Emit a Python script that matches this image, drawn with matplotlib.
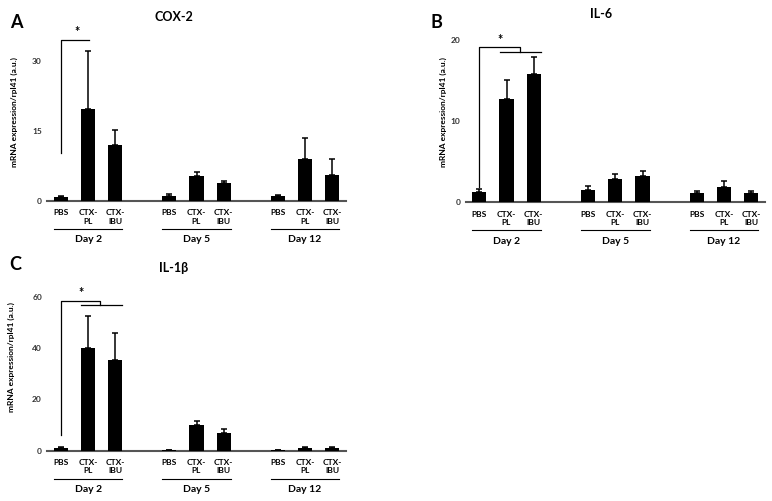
import numpy as np
import matplotlib.pyplot as plt
import matplotlib.transforms as mtransforms

plt.rcParams['font.family'] = ['Lato', 'DejaVu Sans']
plt.rcParams['font.weight'] = 'bold'

groups = ['Day 2', 'Day 5', 'Day 12']
conds = ['PBS', 'CTX-\nPL', 'CTX-\nIBU']
xpos = [0, 1, 2, 4, 5, 6, 8, 9, 10]

cox2 = [0.9, 19.8, 12.1, 1.1, 5.4, 3.9, 1.0, 8.9, 5.6]
cox2_err = [0.1, 12.4, 3.1, 0.4, 0.9, 0.4, 0.2, 4.5, 3.3]
il6 = [1.3, 12.8, 15.9, 1.55, 2.9, 3.3, 1.1, 1.9, 1.1]
il6_err = [0.4, 2.3, 2.1, 0.45, 0.6, 0.6, 0.3, 0.7, 0.3]
il1b = [1.2, 40.1, 35.3, 0.3, 10.1, 6.9, 0.3, 1.2, 1.2]
il1b_err = [0.3, 12.4, 10.5, 0.1, 1.5, 1.5, 0.1, 0.3, 0.4]

W, H = 772, 501
fig = plt.figure(figsize=(W / 100, H / 100), dpi=100)


def make_ax(x0, unit, y0, ppu, ymax):
	# x0: pixel of first bar centre, y0: pixel of zero line, ppu: px per unit
	left = x0 - 0.5 * unit
	width = 11 * unit
	top = y0 - ymax * ppu
	ax = fig.add_axes([left / W, 1 - y0 / H, width / W, (y0 - top) / H])
	ax.set_xlim(-0.5, 10.5)
	ax.set_ylim(0, ymax)
	return ax


def draw_panel(ax, vals, errs, yticks, ylab_x, ylab_y):
	ax.bar(xpos, vals, width=0.52, color='black', zorder=3)
	ax.errorbar(xpos, vals, yerr=[np.zeros(len(vals)), errs], fmt='none',
		ecolor='black', elinewidth=1.1, capsize=2.2, capthick=1.1, zorder=2)
	for s in ['top', 'right', 'left']:
		ax.spines[s].set_visible(False)
	ax.spines['bottom'].set_color('#555555')
	ax.spines['bottom'].set_linewidth(1.5)
	ax.set_yticks(yticks)
	ax.tick_params(axis='y', length=0, pad=4, labelsize=6, labelcolor='#333333')
	ax.set_xticks(xpos)
	ax.set_xticklabels(conds * 3, fontsize=6, linespacing=1.2, va='top')
	ax.tick_params(axis='x', length=0, pad=6)
	ax.set_ylabel('mRNA expression/rpl41 (a.u.)', fontsize=6, fontweight='bold')
	ax.yaxis.set_label_coords(ylab_x, ylab_y)
	tr = mtransforms.offset_copy(ax.get_xaxis_transform(), fig=fig, y=-28, units='dots')
	tr2 = mtransforms.offset_copy(ax.get_xaxis_transform(), fig=fig, y=-39, units='dots')
	for i, g in enumerate(groups):
		c = 4 * i + 1
		ax.plot([c - 1.26, c + 1.26], [0, 0], color='black', lw=0.8, transform=tr, clip_on=False)
		ax.text(c, 0, g, transform=tr2, ha='center', va='center', fontsize=7.5, fontweight='bold')


# A: COX-2
axA = make_ax(61, 27.1, 201, 4.667, 36)
draw_panel(axA, cox2, cox2_err, [0, 15, 30], -0.1, 0.53)
axA.plot([0, 0, 1.05], [10.3, 34.6, 34.6], color='black', lw=0.9, clip_on=False)
axA.text(0.58, 35.0, '*', ha='center', va='bottom', fontsize=9)

# B: IL-6
axB = make_ax(479.3, 27.2, 202.3, 8.1, 21)
draw_panel(axB, il6, il6_err, [0, 10, 20], -0.063, 0.53)
axB.plot([0, 0, 1.5, 1.5], [1.9, 19.2, 19.2, 18.6], color='black', lw=0.9, clip_on=False)
axB.plot([0.76, 2.28], [18.6, 18.6], color='black', lw=0.9, clip_on=False)
axB.text(0.78, 19.3, '*', ha='center', va='bottom', fontsize=9)

# C: IL-1b
axC = make_ax(61, 27.1, 450.7, 2.567, 62)
draw_panel(axC, il1b, il1b_err, [0, 20, 40, 60], -0.109, 0.59)
axC.plot([0, 0, 1.45, 1.45], [6, 58.5, 58.5, 56.6], color='black', lw=0.9, clip_on=False)
axC.plot([0.72, 2.25], [56.6, 56.6], color='black', lw=0.9, clip_on=False)
axC.text(0.74, 59.0, '*', ha='center', va='bottom', fontsize=9)

# titles and panel letters
fig.text(174 / W, 1 - 17 / H, 'COX-2', ha='center', va='center', fontsize=9, fontweight='bold')
fig.text(601 / W, 1 - 14 / H, 'IL-6', ha='center', va='center', fontsize=9, fontweight='bold')
fig.text(174 / W, 1 - 268 / H, 'IL-1β', ha='center', va='center', fontsize=9, fontweight='bold')
fig.text(16 / W, 1 - 22 / H, 'A', ha='center', va='center', fontsize=13, fontweight='bold')
fig.text(436 / W, 1 - 23 / H, 'B', ha='center', va='center', fontsize=13, fontweight='bold')
fig.text(15 / W, 1 - 265 / H, 'C', ha='center', va='center', fontsize=13, fontweight='bold')

fig.savefig('out.png', dpi=100)
